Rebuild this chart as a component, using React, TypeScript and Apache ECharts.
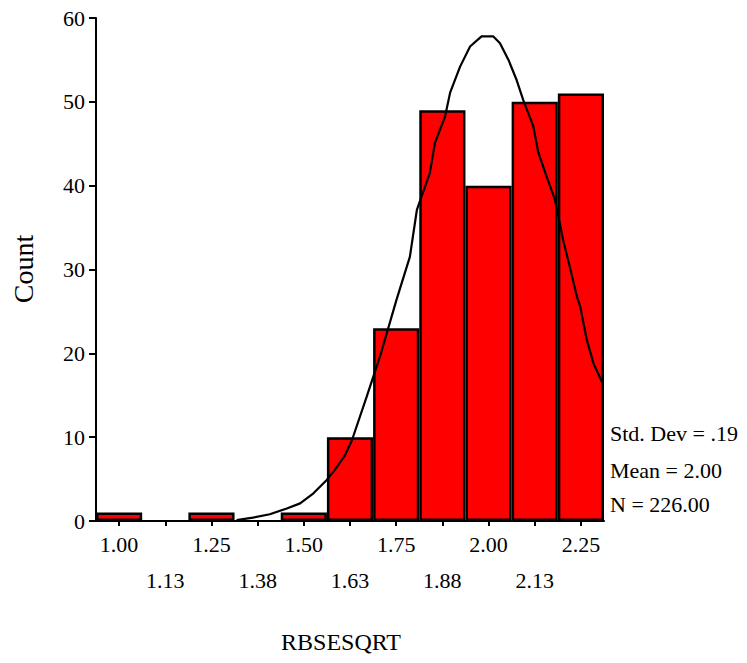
import React, { useEffect, useRef } from "react";
import * as echarts from "echarts";

const categories = ["1.00", "1.13", "1.25", "1.38", "1.50", "1.63", "1.75", "1.88", "2.00", "2.13", "2.25"];
const counts = [1, 0, 1, 0, 1, 10, 23, 49, 40, 50, 51];
const yTicks = [0, 10, 20, 30, 40, 50, 60];
const curveX = [1.318, 1.362, 1.408, 1.454, 1.49, 1.526, 1.562, 1.584, 1.611, 1.63, 1.67, 1.706, 1.751, 1.787, 1.806, 1.841, 1.855, 1.882, 1.896, 1.923, 1.95, 1.981, 2.013, 2.031, 2.054, 2.076, 2.094, 2.121, 2.135, 2.157, 2.18, 2.202, 2.22, 2.239, 2.248, 2.266, 2.284, 2.309];
const curveY = [0.1, 0.4, 0.8, 1.5, 2.1, 3.3, 4.9, 6.1, 7.8, 9.6, 14.8, 19.6, 26.4, 31.5, 37.1, 41.5, 45.1, 48.2, 51.1, 54.2, 56.6, 57.8, 57.8, 57.0, 55.0, 52.6, 50.2, 47.1, 43.9, 41.1, 38.3, 33.5, 30.3, 26.8, 25.6, 21.6, 18.8, 16.4];
const statLines = ["Std. Dev = .19", "Mean = 2.00", "N = 226.00"];
const xTitle = "RBSESQRT";
const yTitle = "Count";

const FONT = "'Liberation Serif', 'Times New Roman', serif";

export default function App() {
  const ref = useRef<HTMLDivElement>(null);
  useEffect(() => {
    if (!ref.current) return;
    const chart = echarts.init(ref.current, null, { renderer: "svg" });
    const statY = [433.5, 470, 504.5];
    chart.setOption({
      animation: false,
      backgroundColor: "#ffffff",
      grid: { left: 96, right: 143, top: 18, bottom: 142, containLabel: false },
      xAxis: [
        {
          type: "category",
          data: categories,
          boundaryGap: true,
          axisLine: { show: true, lineStyle: { color: "#000", width: 2 } },
          axisTick: { show: true, alignWithLabel: true, length: 5, lineStyle: { color: "#000", width: 2 } },
          axisLabel: {
            interval: 0,
            margin: 5,
            color: "#000",
            fontFamily: FONT,
            fontSize: 22,
            lineHeight: 36,
            formatter: (v: string, i: number) => (i % 2 === 1 ? "\n" + v : v),
          },
          splitLine: { show: false },
        },
        {
          type: "value",
          min: 0.9375,
          max: 2.3125,
          show: false,
        },
      ],
      yAxis: {
        type: "value",
        min: yTicks[0],
        max: yTicks[yTicks.length - 1],
        interval: 10,
        axisLine: { show: true, lineStyle: { color: "#000", width: 2 } },
        axisTick: { show: true, length: 7, lineStyle: { color: "#000", width: 2 } },
        axisLabel: { margin: 11, color: "#000", fontFamily: FONT, fontSize: 22 },
        splitLine: { show: false },
      },
      series: [
        {
          type: "bar",
          xAxisIndex: 0,
          data: counts.map((v) => (v === 0 ? "-" : v)),
          barCategoryGap: "0%",
          itemStyle: { color: "#ff0000", borderColor: "#000", borderWidth: 2.5 },
          z: 2,
        },
        {
          type: "line",
          xAxisIndex: 1,
          data: curveX.map((x, i) => [x, curveY[i]]),
          showSymbol: false,
          symbol: "none",
          smooth: false,
          lineStyle: { color: "#000", width: 2.2 },
          z: 3,
        },
      ],
      graphic: [
        {
          type: "text",
          x: 23,
          y: 269,
          rotation: Math.PI / 2,
          style: { text: yTitle, fontFamily: FONT, fontSize: 28, fill: "#000", align: "center", verticalAlign: "middle" },
        },
        {
          type: "text",
          x: 341,
          y: 642,
          style: { text: xTitle, fontFamily: FONT, fontSize: 24, fill: "#000", align: "center", verticalAlign: "middle" },
        },
        ...statLines.map((t, i) => ({
          type: "text",
          x: 610,
          y: statY[i],
          style: { text: t, fontFamily: FONT, fontSize: 22, fill: "#000", align: "left", verticalAlign: "middle" },
        })),
      ],
    });
    return () => chart.dispose();
  }, []);
  return <div ref={ref} style={{ position: "absolute", left: 0, top: 0, width: 747, height: 663 }} />;
}
